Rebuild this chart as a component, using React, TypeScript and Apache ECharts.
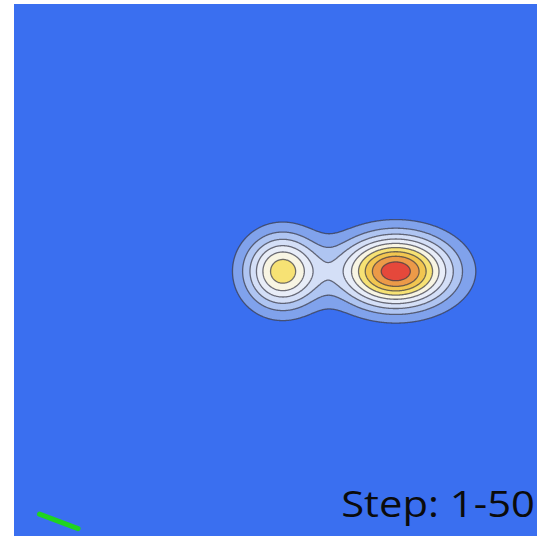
import { useEffect, useRef } from 'react';
import * as echarts from 'echarts';

// Plot window (data units)
const xRange = [-4, 4];
const yRange = [-4, 4];

// Two Gaussian peaks that make up the surface
const peakX = [0.1, 1.84];
const peakY = [-0.02, -0.02];
const peakHeight = [6.6, 9.7];
const peakSigmaX = [0.39, 0.574];
const peakSigmaY = [0.38, 0.365];

// Contour levels and the fill used above each one
const contourLevels = [1, 2, 3, 4, 5, 6, 7, 8, 9];
const bandColors = [
  '#80a2ec',
  '#afc5f2',
  '#d4dff7',
  '#e8edf8',
  '#f8f5e3',
  '#f7e274',
  '#f2c650',
  '#ec9a48',
  '#e5483b',
];

// Short green trail in the lower-left corner
const trailX = [-3.61, -3.02];
const trailY = [-3.67, -3.89];

const stepLabel = 'Step: 1-50';

function surface(x: number, y: number): number {
  let z = 0;
  for (let k = 0; k < peakX.length; k++) {
    const dx = (x - peakX[k]) / peakSigmaX[k];
    const dy = (y - peakY[k]) / peakSigmaY[k];
    z += peakHeight[k] * Math.exp(-0.5 * (dx * dx + dy * dy));
  }
  return z;
}

type Loop = { level: number; points: number[][] };

// Marching squares on a sampled grid, segments chained into closed loops
function traceContours(): Loop[] {
  const x0 = -1.3, x1 = 3.6, y0 = -1.5, y1 = 1.5, step = 0.01;
  const nx = Math.round((x1 - x0) / step) + 1;
  const ny = Math.round((y1 - y0) / step) + 1;
  const v: number[][] = [];
  for (let j = 0; j < ny; j++) {
    const row: number[] = [];
    for (let i = 0; i < nx; i++) row.push(surface(x0 + i * step, y0 + j * step));
    v.push(row);
  }
  const loops: Loop[] = [];
  contourLevels.forEach((level, li) => {
    const adj = new Map<string, string[]>();
    const pos = new Map<string, number[]>();
    const hKey = (i: number, j: number) => {
      const k = 'h' + i + ',' + j;
      if (!pos.has(k)) {
        const t = (level - v[j][i]) / (v[j][i + 1] - v[j][i]);
        pos.set(k, [x0 + (i + t) * step, y0 + j * step]);
      }
      return k;
    };
    const vKey = (i: number, j: number) => {
      const k = 'v' + i + ',' + j;
      if (!pos.has(k)) {
        const t = (level - v[j][i]) / (v[j + 1][i] - v[j][i]);
        pos.set(k, [x0 + i * step, y0 + (j + t) * step]);
      }
      return k;
    };
    const link = (a: string, b: string) => {
      if (!adj.has(a)) adj.set(a, []);
      if (!adj.has(b)) adj.set(b, []);
      adj.get(a)!.push(b);
      adj.get(b)!.push(a);
    };
    for (let j = 0; j < ny - 1; j++) {
      for (let i = 0; i < nx - 1; i++) {
        const a = v[j][i] >= level;
        const b = v[j][i + 1] >= level;
        const c = v[j + 1][i + 1] >= level;
        const d = v[j + 1][i] >= level;
        const crossed: string[] = [];
        const bottom = a !== b ? hKey(i, j) : '';
        const right = b !== c ? vKey(i + 1, j) : '';
        const top = d !== c ? hKey(i, j + 1) : '';
        const left = a !== d ? vKey(i, j) : '';
        [bottom, right, top, left].forEach((e) => e && crossed.push(e));
        if (crossed.length === 2) {
          link(crossed[0], crossed[1]);
        } else if (crossed.length === 4) {
          const centre = (v[j][i] + v[j][i + 1] + v[j + 1][i + 1] + v[j + 1][i]) / 4 >= level;
          if (centre === a) {
            link(bottom, right);
            link(top, left);
          } else {
            link(bottom, left);
            link(right, top);
          }
        }
      }
    }
    const seen = new Set<string>();
    adj.forEach((_, start) => {
      if (seen.has(start)) return;
      const pts: number[][] = [];
      let prev = '';
      let cur = start;
      while (cur && !seen.has(cur)) {
        seen.add(cur);
        pts.push(pos.get(cur)!);
        const nb = adj.get(cur)!;
        const next = nb[0] !== prev && !seen.has(nb[0]) ? nb[0] : nb[1];
        prev = cur;
        cur = next && !seen.has(next) ? next : '';
      }
      if (pts.length > 2) loops.push({ level: li, points: pts });
    });
  });
  return loops;
}

export default function App() {
  const ref = useRef<HTMLDivElement>(null);
  useEffect(() => {
    if (!ref.current) return;
    const chart = echarts.init(ref.current, undefined, { renderer: 'svg' });
    const loops = traceContours();
    chart.setOption({
      animation: false,
      backgroundColor: '#ffffff',
      grid: {
        left: 14,
        top: 4,
        right: 0,
        bottom: 0,
        show: true,
        backgroundColor: '#3a6ff0',
        borderWidth: 0,
      },
      xAxis: { type: 'value', min: xRange[0], max: xRange[1], show: false },
      yAxis: { type: 'value', min: yRange[0], max: yRange[1], show: false },
      series: [
        {
          type: 'custom',
          data: loops.map((l) => [l.points[0][0], l.points[0][1], l.level]),
          renderItem: (params: any, api: any) => {
            const loop = loops[params.dataIndex];
            const points = loop.points.map((p) => api.coord(p));
            return {
              type: 'polygon',
              shape: { points },
              style: {
                fill: bandColors[loop.level],
                stroke: 'rgba(58,58,70,0.72)',
                lineWidth: 1.3,
              },
            };
          },
        },
        {
          type: 'line',
          data: trailX.map((x, k) => [x, trailY[k]]),
          symbol: 'none',
          lineStyle: { color: '#1fd41f', width: 5, cap: 'round' },
        },
      ],
      graphic: [
        {
          type: 'text',
          x: 535,
          y: 521,
          scaleX: 1.13,
          style: {
            text: stepLabel,
            x: 0,
            y: 0,
            align: 'right',
            verticalAlign: 'bottom',
            fontFamily: 'Open Sans',
            fontSize: 37,
            fill: '#0b0b0b',
          },
        },
      ],
    });
    return () => chart.dispose();
  }, []);
  return (
    <div
      ref={ref}
      style={{ position: 'absolute', left: 0, top: 0, width: 537, height: 536 }}
    />
  );
}
